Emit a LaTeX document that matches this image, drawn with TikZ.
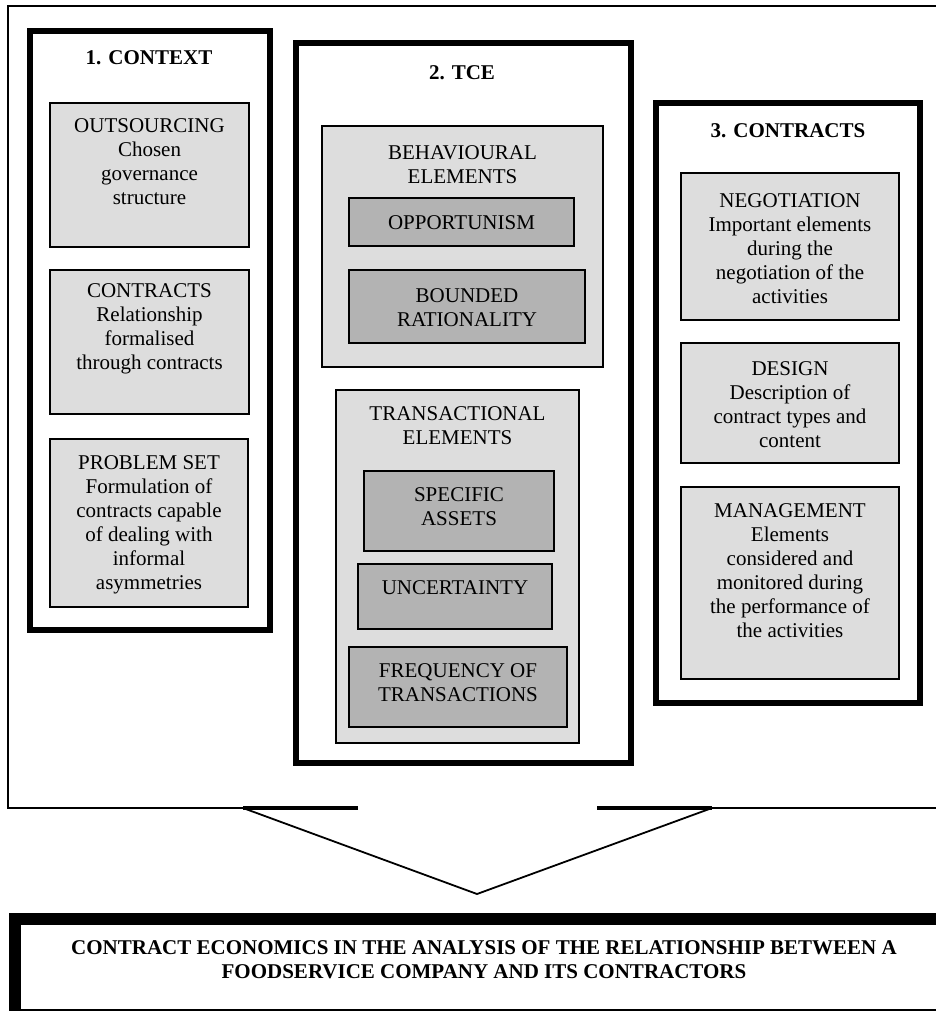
\documentclass[tikz,border=0pt]{standalone}
\usepackage{fontspec}
\setmainfont{Liberation Serif}
\usetikzlibrary{fit}
\definecolor{boxgray}{RGB}{221,221,221}
\definecolor{itemgray}{RGB}{179,179,179}
\tikzset{
  colbox/.style={draw, line width=3pt, inner sep=0pt},
  graybox/.style={draw, line width=0.9pt, fill=boxgray, inner sep=0pt},
  darkbox/.style={graybox, fill=itemgray},
  boxtext/.style={anchor=north, align=center, inner sep=0pt, font=\fontsize{10.5}{12}\selectfont},
  coltitle/.style={boxtext, font=\fontsize{10.5}{12}\selectfont\bfseries}
}
\begin{document}
\begin{tikzpicture}[x=0.5pt, y=-0.5pt]
\useasboundingbox (0,0) rectangle (936,1013);
% outer frame, open at the bottom where the arrow leaves
\coordinate (fl) at (358,808);
\coordinate (fr) at (597,808);
\draw [line width=0.9pt] (fl) -- (8,808) -- (8,6) -- (950,6) -- (950,808) -- (fr);
% arrow head
\coordinate (al) at (243,808);
\coordinate (ar) at (712,808);
\coordinate (tip) at (477,894);
\draw [line width=0.9pt] (al) -- (tip) -- (ar);
\draw [line width=1.8pt] (fl) -- (al);
\draw [line width=1.8pt] (fr) -- (ar);

% 1. context
\node (ctx) [colbox, fit={(29.5,31) (269.5,630)}] {};
\node (ctxT) [coltitle] at (149,50) {1. CONTEXT};
\node (outs) [graybox, fit={(50,103) (249,247)}] {};
\node (outsT) [boxtext] at (149.5,118) {OUTSOURCING\\Chosen\\governance\\structure};
\node (ctr) [graybox, fit={(50,270) (249,414)}] {};
\node (ctrT) [boxtext] at (149.5,283) {CONTRACTS\\Relationship\\formalised\\through contracts};
\node (prob) [graybox, fit={(50,439) (248,607)}] {};
\node (probT) [boxtext] at (149,455) {PROBLEM SET\\Formulation of\\contracts capable\\of dealing with\\informal\\asymmetries};

% 2. tce
\node (tce) [colbox, fit={(295.5,43) (631,763)}] {};
\node (tceT) [coltitle] at (462,65) {2. TCE};
\node (behav) [graybox, fit={(322,126) (603,367)}] {};
\node (behavT) [boxtext] at (462.5,145) {BEHAVIOURAL\\ELEMENTS};
\node (opp) [darkbox, fit={(349,198) (574,246)}] {};
\node (oppT) [boxtext] at (461.5,215) {OPPORTUNISM};
\node (bound) [darkbox, fit={(349,270) (585,343)}] {};
\node (boundT) [boxtext] at (467,288) {BOUNDED\\RATIONALITY};
\node (trans) [graybox, fit={(336,390) (579,743)}] {};
\node (transT) [boxtext] at (457.5,406) {TRANSACTIONAL\\ELEMENTS};
\node (spec) [darkbox, fit={(364,471) (554,551)}] {};
\node (specT) [boxtext] at (459,487) {SPECIFIC\\ASSETS};
\node (unc) [darkbox, fit={(358,564) (552,629)}] {};
\node (uncT) [boxtext] at (455,580) {UNCERTAINTY};
\node (freq) [darkbox, fit={(349,647) (567,727)}] {};
\node (freqT) [boxtext] at (458,663) {FREQUENCY OF\\TRANSACTIONS};

% 3. contracts
\node (con) [colbox, fit={(656,103) (920,702.5)}] {};
\node (conT) [coltitle] at (788,123) {3. CONTRACTS};
\node (nego) [graybox, fit={(681,173) (899,320)}] {};
\node (negoT) [boxtext] at (790,193) {NEGOTIATION\\Important elements\\during the\\negotiation of the\\activities};
\node (des) [graybox, fit={(681,343) (899,463)}] {};
\node (desT) [boxtext] at (790,361) {DESIGN\\Description of\\contract types and\\content};
\node (man) [graybox, fit={(681,487) (899,679)}] {};
\node (manT) [boxtext] at (790,503) {MANAGEMENT\\Elements\\considered and\\monitored during\\the performance of\\the activities};

% result box
\node (goal) [draw, line width=0.9pt, inner sep=0pt, fit={(16,919.5) (950,1010)}] {};
\draw [line width=6pt] (goal.south west) -- (goal.north west) -- (goal.north east);
\node (goalT) [coltitle] at (484,940) {CONTRACT ECONOMICS IN THE ANALYSIS OF THE RELATIONSHIP BETWEEN A\\FOODSERVICE COMPANY AND ITS CONTRACTORS};
\end{tikzpicture}
\end{document}
